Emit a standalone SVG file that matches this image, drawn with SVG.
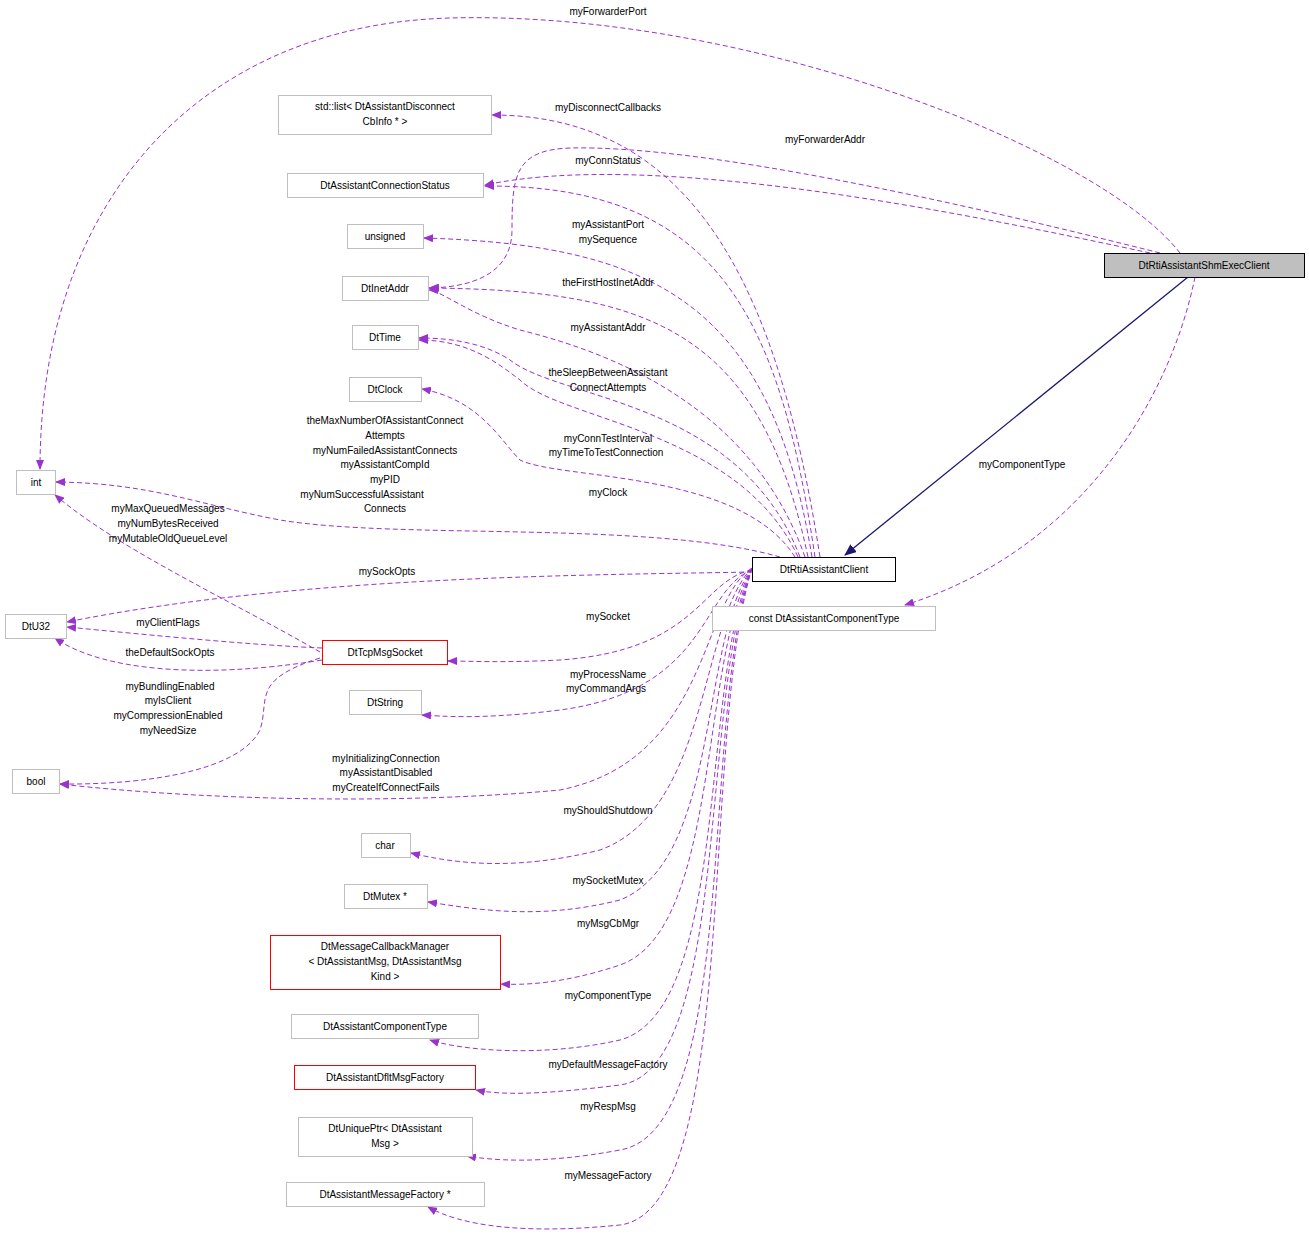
<svg xmlns="http://www.w3.org/2000/svg" width="1309" height="1235" viewBox="0 0 1309 1235">
<style>
text{font-family:"Liberation Sans",Arial,sans-serif;font-size:10px;fill:#000}
.n rect{fill:#fff;stroke:#bfbfbf;stroke-width:1}
.r rect{fill:#fff;stroke:#ff0000;stroke-width:1}
.e path{fill:none;stroke:#9a32cd;stroke-dasharray:5,3;marker-end:url(#a)}
.l text{text-anchor:middle}
.c{text-anchor:middle}
</style>
<defs>
<marker id="a" markerWidth="10" markerHeight="8" refX="9" refY="4" orient="auto" markerUnits="userSpaceOnUse"><path d="M0,0 L10,4 L0,8 Z" fill="#9a32cd"/></marker>
<marker id="b" markerWidth="12" markerHeight="10" refX="11" refY="5" orient="auto" markerUnits="userSpaceOnUse"><path d="M0,0 L12,5 L0,10 Z" fill="#191970"/></marker>
</defs>
<rect width="1309" height="1235" fill="#fff"/>
<g class="e">
<path d="M1180,253 C1100,150 750,10 450,18 C200,25 40,200 40,469"/>
<path d="M1160,253 C950,200 700,145 570,148 C515,150 512,175 512,230 C512,275 470,287 430,288"/>
<path d="M1150,253 C950,210 650,150 485,185"/>
<path d="M820,557 C780,300 700,115 492,115"/>
<path d="M815,557 C780,320 720,185 485,186"/>
<path d="M812,557 C770,300 650,245 424,238"/>
<path d="M808,557 C760,330 650,290 429,288"/>
<path d="M805,557 C750,400 600,350 520,330 C470,315 440,290 429,290"/>
<path d="M800,557 C740,400 560,400 510,360 C480,340 440,338 419,338"/>
<path d="M798,557 C740,430 560,420 520,380 C500,365 470,340 419,340"/>
<path d="M795,557 C740,470 560,480 520,460 C500,440 480,400 422,389"/>
<path d="M780,557 C650,520 400,540 280,520 C200,505 150,483 56,482"/>
<path d="M752,572 C600,575 300,575 67,622"/>
<path d="M320,652 C230,600 120,550 55,495"/>
<path d="M322,648 C250,645 150,635 67,627"/>
<path d="M322,660 C200,680 100,670 55,638"/>
<path d="M320,658 C250,680 270,700 260,730 C240,770 150,785 60,784"/>
<path d="M752,570 C700,580 700,650 560,660 C500,663 470,661 448,661"/>
<path d="M752,570 C700,590 710,690 560,710 C480,720 440,716 422,715"/>
<path d="M752,568 C700,600 710,760 560,790 C400,805 200,800 60,784"/>
<path d="M752,568 C700,620 710,810 600,850 C520,870 460,865 411,853"/>
<path d="M752,568 C700,640 720,860 620,900 C540,920 480,910 428,902"/>
<path d="M752,568 C700,660 720,930 620,965 C560,985 520,985 501,984"/>
<path d="M752,568 C700,680 730,1010 620,1040 C540,1058 460,1050 430,1040"/>
<path d="M752,568 C700,700 730,1070 620,1085 C540,1095 500,1095 476,1090"/>
<path d="M752,568 C700,720 740,1130 620,1150 C540,1165 490,1160 467,1156"/>
<path d="M752,568 C700,740 740,1210 620,1225 C520,1235 460,1225 428,1207"/>
<path d="M1195,277 C1170,400 1080,550 905,605"/>
</g>
<path d="M1188,277 L845,555" fill="none" stroke="#191970" stroke-width="1.3" marker-end="url(#b)"/>
<g class="l">
<text x="608" y="15">myForwarderPort</text>
<text x="825" y="143">myForwarderAddr</text>
<text x="608" y="111">myDisconnectCallbacks</text>
<text x="608" y="164">myConnStatus</text>
<text x="608" y="228">myAssistantPort</text>
<text x="608" y="243">mySequence</text>
<text x="608" y="286">theFirstHostInetAddr</text>
<text x="608" y="331">myAssistantAddr</text>
<text x="608" y="376">theSleepBetweenAssistant</text>
<text x="608" y="391">ConnectAttempts</text>
<text x="608" y="442">myConnTestInterval</text>
<text x="606" y="456">myTimeToTestConnection</text>
<text x="608" y="496">myClock</text>
<text x="385" y="424">theMaxNumberOfAssistantConnect</text>
<text x="385" y="439">Attempts</text>
<text x="385" y="454">myNumFailedAssistantConnects</text>
<text x="385" y="468">myAssistantCompId</text>
<text x="385" y="483">myPID</text>
<text x="362" y="498">myNumSuccessfulAssistant</text>
<text x="385" y="512">Connects</text>
<text x="168" y="512">myMaxQueuedMessages</text>
<text x="168" y="527">myNumBytesReceived</text>
<text x="168" y="542">myMutableOldQueueLevel</text>
<text x="387" y="575">mySockOpts</text>
<text x="168" y="626">myClientFlags</text>
<text x="170" y="656">theDefaultSockOpts</text>
<text x="170" y="690">myBundlingEnabled</text>
<text x="168" y="704">myIsClient</text>
<text x="168" y="719">myCompressionEnabled</text>
<text x="168" y="734">myNeedSize</text>
<text x="608" y="620">mySocket</text>
<text x="608" y="678">myProcessName</text>
<text x="606" y="692">myCommandArgs</text>
<text x="386" y="762">myInitializingConnection</text>
<text x="386" y="776">myAssistantDisabled</text>
<text x="386" y="791">myCreateIfConnectFails</text>
<text x="608" y="814">myShouldShutdown</text>
<text x="608" y="884">mySocketMutex</text>
<text x="608" y="927">myMsgCbMgr</text>
<text x="608" y="999">myComponentType</text>
<text x="608" y="1068">myDefaultMessageFactory</text>
<text x="608" y="1110">myRespMsg</text>
<text x="608" y="1179">myMessageFactory</text>
<text x="1022" y="468">myComponentType</text>
</g>
<g id="shm"><rect x="1104.5" y="253.5" width="200" height="24" fill="#bfbfbf" stroke="#000"/><text class="c" x="1204" y="269">DtRtiAssistantShmExecClient</text></g>
<g id="client"><rect x="752.5" y="557.5" width="143" height="24" fill="#fff" stroke="#000"/><text class="c" x="824" y="573">DtRtiAssistantClient</text></g>
<g id="constct" class="n"><rect x="712.5" y="606.5" width="223" height="24"/><text class="c" x="824" y="622">const DtAssistantComponentType</text></g>
<g id="list" class="n"><rect x="278.5" y="95.5" width="213" height="39"/><text class="c" x="385" y="110">std::list&lt; DtAssistantDisconnect</text><text class="c" x="385" y="125">CbInfo * &gt;</text></g>
<g id="connstatus" class="n"><rect x="287.5" y="173.5" width="196" height="24"/><text class="c" x="385" y="189">DtAssistantConnectionStatus</text></g>
<g id="unsigned" class="n"><rect x="347.5" y="224.5" width="76" height="24"/><text class="c" x="385" y="240">unsigned</text></g>
<g id="inet" class="n"><rect x="342.5" y="276.5" width="86" height="24"/><text class="c" x="385" y="292">DtInetAddr</text></g>
<g id="time" class="n"><rect x="352.5" y="325.5" width="66" height="24"/><text class="c" x="385" y="341">DtTime</text></g>
<g id="clock" class="n"><rect x="349.5" y="377.5" width="72" height="24"/><text class="c" x="385" y="393">DtClock</text></g>
<g id="int" class="n"><rect x="16.5" y="470.5" width="39" height="24"/><text class="c" x="36" y="486">int</text></g>
<g id="u32" class="n"><rect x="5.5" y="614.5" width="61" height="24"/><text class="c" x="36" y="630">DtU32</text></g>
<g id="tcp" class="r"><rect x="322.5" y="640.5" width="125" height="24"/><text class="c" x="385" y="656">DtTcpMsgSocket</text></g>
<g id="string" class="n"><rect x="349.5" y="690.5" width="72" height="24"/><text class="c" x="385" y="706">DtString</text></g>
<g id="bool" class="n"><rect x="12.5" y="769.5" width="47" height="24"/><text class="c" x="36" y="785">bool</text></g>
<g id="char" class="n"><rect x="361.5" y="833.5" width="49" height="24"/><text class="c" x="385" y="849">char</text></g>
<g id="mutex" class="n"><rect x="344.5" y="884.5" width="83" height="24"/><text class="c" x="385" y="900">DtMutex *</text></g>
<g id="cbmgr" class="r"><rect x="270.5" y="935.5" width="230" height="54"/><text class="c" x="385" y="950">DtMessageCallbackManager</text><text class="c" x="385" y="965">&lt; DtAssistantMsg, DtAssistantMsg</text><text class="c" x="385" y="980">Kind &gt;</text></g>
<g id="comptype" class="n"><rect x="291.5" y="1014.5" width="187" height="24"/><text class="c" x="385" y="1030">DtAssistantComponentType</text></g>
<g id="dflt" class="r"><rect x="294.5" y="1065.5" width="181" height="24"/><text class="c" x="385" y="1081">DtAssistantDfltMsgFactory</text></g>
<g id="uptr" class="n"><rect x="298.5" y="1117.5" width="174" height="39"/><text class="c" x="385" y="1132">DtUniquePtr&lt; DtAssistant</text><text class="c" x="385" y="1147">Msg &gt;</text></g>
<g id="msgfac" class="n"><rect x="286.5" y="1182.5" width="198" height="24"/><text class="c" x="385" y="1198">DtAssistantMessageFactory *</text></g>
</svg>
